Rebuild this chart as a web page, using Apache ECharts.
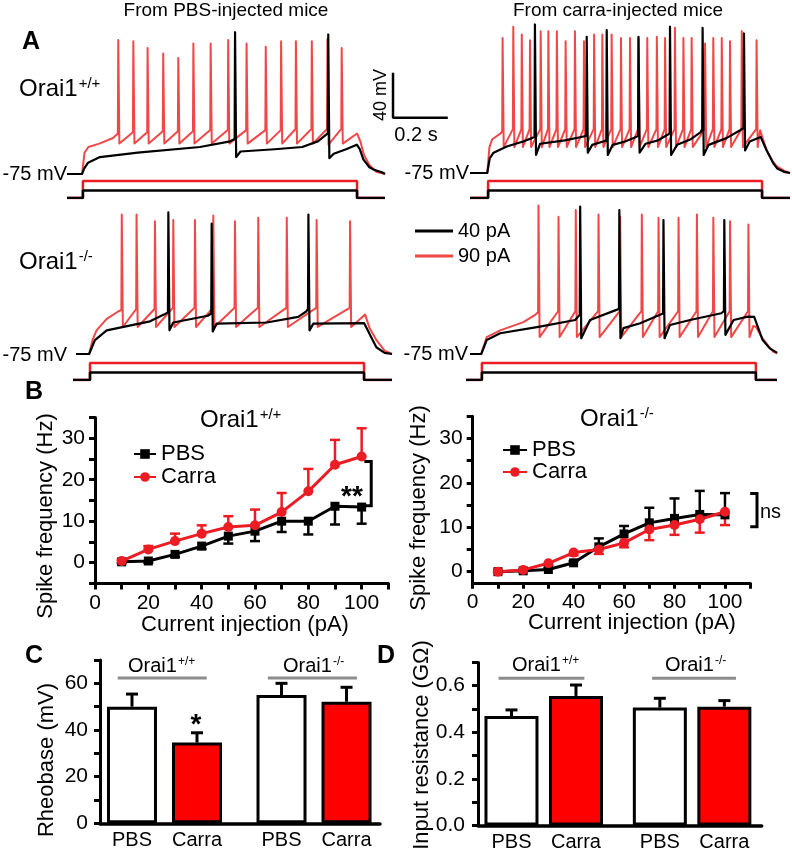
<!DOCTYPE html>
<html><head><meta charset="utf-8">
<script src="https://cdn.jsdelivr.net/npm/echarts@6/dist/echarts.min.js"></script>
<style>html,body{margin:0;padding:0;background:#fff}#c{width:792px;height:853px}</style>
</head><body><div id="c"></div>
<script>
// ================= DATA =================
// Panel A traces. Sub-threshold key points: [time ms from step onset, mV]
// Spikes: [time ms, peak mV, pre-spike mV, post-spike trough mV]
const tlBlackSub = [[-58,-75],[-3,-75],[5,-70],[19,-65],[62,-60],[200,-56],[427,-51],[537,-46],[575,-55],[700,-53],[800,-51],[857,-46],[883,-41],[915,-57],[960,-53],[999,-49],[1010,-53],[1023,-62],[1045,-69],[1060,-71],[1096,-74],[1102,-75]];
const tlBlackSpikes = [[555,51,-44,-60],[895,49,-39,-61]];
const tlRedSub = [[-58,-75],[-3,-75],[6,-56],[20,-51],[60,-48],[110,-43],[1000,-39],[1012,-46],[1025,-58],[1045,-67],[1070,-73],[1102,-75]];
const tlRedSpikes = [[129,44,-39,-48],[184,43,-38,-48],[236,37,-38,-48],[293,32,-37,-48],[348,28,-37,-48],[403,41,-37,-48],[466,41,-36,-48],[530,44,-36,-48],[597,41,-36,-48],[667,38,-36,-48],[723,43,-36,-48],[777,43,-35,-48],[835,43,-35,-48],[892,45,-35,-49],[944,37,-35,-48]];

const trBlackSub = [[-66,-75],[-3,-75],[6,-62],[20,-57],[68,-51.5],[128,-47],[160,-44],[190,-49],[280,-46],[340,-43],[380,-50],[420,-47],[455,-50],[500,-47],[540,-43],[575,-49],[620,-46],[655,-41],[690,-50],[740,-45],[775,-39],[805,-50],[870,-44],[920,-37],[955,-47],[995,-43],[1017,-55],[1040,-66],[1055,-71],[1080,-74],[1102,-75]];
const trBlackSpikes = [[171,57,-43,-59],[360,46,-42,-57],[433,52,-46,-59],[549,46,-42,-57],[664,55,-40,-59],[783,54,-36,-59],[934,49,-35,-55]];
const trRedSub = [[-66,-75],[-3,-75],[5,-52],[15,-45],[45,-40],[993,-37],[1017,-55],[1040,-65],[1053,-69],[1080,-73],[1102,-75]];
const trRedSpikes = [[53,45,-38,-52],[92,55,-36,-52],[123,48,-36,-52],[153,43,-36,-52],[192,51,-36,-52],[220,51,-36,-52],[251,51,-36,-52],[283,42,-36,-52],[317,51,-36,-52],[350,42,-36,-52],[387,48,-36,-52],[417,48,-36,-52],[451,48,-36,-52],[485,45,-36,-52],[518,45,-36,-52],[549,45,-36,-52],[581,45,-36,-52],[616,46,-36,-52],[646,45,-36,-52],[682,54,-36,-52],[713,45,-36,-52],[743,45,-36,-52],[792,40,-36,-52],[822,45,-36,-52],[853,45,-36,-52],[883,42,-36,-52],[926,51,-36,-52],[980,43,-36,-52]];

const blBlackSub = [[-51,-75],[-3,-75],[18,-62.6],[61,-54],[219,-46],[270,-40],[304,-47],[430,-41],[462,-48],[645,-47],[760,-42],[790,-37],[815,-48],[1000,-47.5],[1030,-62],[1045,-69],[1075,-74],[1102,-75]];
const blBlackSpikes = [[286,51,-38,-54],[444,41,-39,-55],[797,49,-35,-54]];
const blRedSub = [[-51,-75],[-3,-75],[10,-62],[24,-54],[60,-44],[104,-37],[1004,-40],[1020,-52],[1046,-63],[1075,-72],[1102,-75]];
const blRedSpikes = [[116,49,-36,-51],[170,49,-35,-51],[237,43,-35,-51],[304,44,-34,-51],[383,44,-34,-51],[450,48,-34,-51],[529,43,-34,-51],[614,46,-34,-51],[718,46,-34,-51],[827,44,-34,-51],[949,43,-34,-51]];

const brBlackSub = [[-44,-75],[-3,-75],[17,-62.6],[66,-56.6],[211,-50.7],[340,-44.8],[394,-44.8],[488,-36],[516,-52],[577,-47.7],[647,-40.3],[686,-49.2],[759,-44.8],[873,-38.8],[918,-44.8],[970,-41.8],[993,-42],[1024,-62.6],[1050,-70],[1077,-74]];
const brBlackSpikes = [[358,56,-40,-61],[501,53,-35,-61],[662,44,-39,-61],[884,44,-37,-58]];
const brRedSub = [[-44,-75],[-3,-75],[17,-60],[66,-54],[151,-46.7],[195,-40],[990,-50],[1000,-51],[1020,-60],[1045,-68],[1063,-73],[1077,-74.5]];
const brRedSpikes = [[206,57,-38,-60],[279,47,-37,-60],[342,53,-37,-60],[425,49,-37,-60],[504,47,-37,-60],[583,49,-37,-60],[644,46,-37,-60],[717,46,-37,-60],[784,49,-37,-60],[844,46,-37,-60],[905,43,-37,-60],[972,40,-37,-60]];

// Current steps (pA), step from 0 to 1000 ms
const stepOnMs = 0, stepOffMs = 1000;
const stimBlackPa = 40, stimRedPa = 90;
// Scale bar
const scaleMv = 40, scaleMs = 200;

// Panel B
const currents = [10,20,30,40,50,60,70,80,90,100];
const wtPbs      = [0.2,0.4,2.0,4.0,6.4,7.6,10.0,10.0,13.6,13.4];
const wtPbsErr   = [0.3,0.4,0.6,0.7,1.8,2.4,2.6,3.2,4.4,4.0];
const wtCarra    = [0.4,3.2,5.2,7.0,8.6,9.0,12.2,17.2,23.6,25.6];
const wtCarraErr = [0.3,0.8,1.8,2.0,2.6,3.8,4.6,5.4,6.0,6.8];
const koPbs      = [0,0.2,0.5,2.0,5.6,8.5,11.0,12.0,12.9,12.8];
const koPbsErr   = [0.2,0.2,0.3,0.4,1.9,1.8,3.4,4.5,5.3,4.9];
const koCarra    = [0,0.4,1.9,4.3,5.0,6.5,9.5,10.5,11.8,13.5];
const koCarraErr = [0.2,0.3,0.4,0.6,1.0,1.0,2.4,2.2,3.0,3.0];

// Panels C & D
const barCats = ['PBS','Carra','PBS','Carra'];
const barPos  = [1, 2, 3.3, 4.3];
const rheobase    = [50, 34.6, 55, 52.1];
const rheobaseErr = [5.4, 4.2, 5.0, 6.2];
const inputRes    = [0.47, 0.556, 0.506, 0.51];
const inputResErr = [0.026, 0.047, 0.04, 0.026];

// ================= STYLE / LAYOUT =================
const FF = "'Liberation Sans', Arial, Helvetica, sans-serif";
const RED_TRACE = '#f04848';
const RED = '#ec1c24';
const RED_BAR = '#ff0000';

const panels = [ // trace grid, stim grid, x extents
  {tr:{left:67, top:22.1, width:318, height:157.5, min:-58, max:1102}, st:{left:67, top:179, width:318, height:19, min:-58, max:1102}},
  {tr:{left:390, top:21.1, width:400, height:157.5, min:-358, max:1102}, st:{left:470, top:179, width:320, height:19, min:-66, max:1102}},
  {tr:{left:76, top:202.1, width:316, height:157.5, min:-51, max:1102}, st:{left:73, top:361, width:319, height:19, min:-62, max:1102}},
  {tr:{left:470, top:202.1, width:307.2, height:157.5, min:-44, max:1077}, st:{left:466, top:361, width:311, height:19, min:-58, max:1077}}
];
const traceData = [
  [tlBlackSub, tlBlackSpikes, tlRedSub, tlRedSpikes],
  [trBlackSub, trBlackSpikes, trRedSub, trRedSpikes],
  [blBlackSub, blBlackSpikes, blRedSub, blRedSpikes],
  [brBlackSub, brBlackSpikes, brRedSub, brRedSpikes]
];

function buildTrace(sub, spikes){
  const pts = sub.map(p => [p[0], p[1]]);
  spikes.forEach(s => { pts.push([s[0]-1.5, s[2]], [s[0], s[1]], [s[0]+4, s[3]]); });
  pts.sort((a,b) => a[0]-b[0]);
  return pts;
}
function buildStim(min, max, amp){
  return [[min,0],[stepOnMs,0],[stepOnMs,amp],[stepOffMs,amp],[stepOffMs,0],[max,0]];
}

const grids = [], xAxes = [], yAxes = [], series = [];
panels.forEach((p, k) => {
  const gi = grids.length;
  grids.push({left:p.tr.left, top:p.tr.top, width:p.tr.width, height:p.tr.height, outerBoundsMode:'none'});
  xAxes.push({type:'value', gridIndex:gi, min:p.tr.min, max:p.tr.max, show:false});
  yAxes.push({type:'value', gridIndex:gi, min:-80, max:60, show:false});
  grids.push({left:p.st.left, top:p.st.top, width:p.st.width, height:p.st.height, outerBoundsMode:'none'});
  xAxes.push({type:'value', gridIndex:gi+1, min:p.st.min, max:p.st.max, show:false});
  yAxes.push({type:'value', gridIndex:gi+1, min:0, max:100, show:false});
  const d = traceData[k];
  const lineBase = {type:'line', showSymbol:false, symbol:'none', silent:true, animation:false};
  series.push(Object.assign({}, lineBase, {name:'90 pA', xAxisIndex:gi, yAxisIndex:gi, data:buildTrace(d[2], d[3]), lineStyle:{color:RED_TRACE, width:2, join:'round'}, itemStyle:{color:RED_TRACE}}));
  series.push(Object.assign({}, lineBase, {name:'40 pA', xAxisIndex:gi, yAxisIndex:gi, data:buildTrace(d[0], d[1]), lineStyle:{color:'#000', width:2.2, join:'round'}, itemStyle:{color:'#000'}}));
  series.push(Object.assign({}, lineBase, {name:'stim90', xAxisIndex:gi+1, yAxisIndex:gi+1, data:buildStim(p.st.min, p.st.max, stimRedPa), lineStyle:{color:RED, width:2.5}}));
  series.push(Object.assign({}, lineBase, {name:'stim40', xAxisIndex:gi+1, yAxisIndex:gi+1, data:buildStim(p.st.min, p.st.max, stimBlackPa), lineStyle:{color:'#000', width:2.5}}));
});
// scale bar in top-right trace grid (index 2)
series.push({type:'line', name:'scale', xAxisIndex:2, yAxisIndex:2, showSymbol:false, symbol:'none', silent:true,
  data:[[-347, 14], [-347, 14-scaleMv], [-347+scaleMs, 14-scaleMv]], lineStyle:{color:'#000', width:2.5}});

// ---------- common axis styles ----------
const axLine = {show:true, onZero:false, lineStyle:{color:'#000', width:3}};
const axTick = {show:true, inside:false, length:6, lineStyle:{color:'#000', width:3}};
const lblBase = {fontSize:21, color:'#000', fontFamily:FF};

// B grids (8,9)
grids.push({left:95, top:417.5, width:293.3, height:165.9, outerBoundsMode:'none'});
grids.push({left:472.7, top:416.3, width:277.5, height:166.5, outerBoundsMode:'none'});
[8,9].forEach(gi => {
  xAxes.push({type:'value', gridIndex:gi, min:0, max:110, interval:10, axisLine:axLine, axisTick:axTick, splitLine:{show:false},
    axisLabel:Object.assign({}, lblBase, {margin:9, formatter: v => (v % 20 === 0 && v <= 100) ? String(v) : ''})});
});
yAxes.push({type:'value', gridIndex:8, min:-5, max:35, interval:5, axisLine:axLine, axisTick:axTick, splitLine:{show:false},
  axisLabel:Object.assign({}, lblBase, {margin:10, formatter: v => (v >= 0 && v <= 30 && v % 10 === 0) ? String(v) : ''})});
yAxes.push({type:'value', gridIndex:9, min:-2.5, max:35, axisLine:axLine, splitLine:{show:false},
  axisTick:Object.assign({}, axTick, {customValues:[0,5,10,15,20,25,30,35]}),
  axisLabel:Object.assign({}, lblBase, {margin:10, customValues:[0,10,20,30]})});

// C, D grids (10, 11)
grids.push({left:100, top:660, width:280, height:163.3, outerBoundsMode:'none'});
grids.push({left:478, top:662.4, width:283.7, height:163.1, outerBoundsMode:'none'});
const catFmt = v => { const i = barPos.findIndex(p => Math.abs(p - v) < 1e-6); return i >= 0 ? barCats[i] : ''; };
xAxes.push({type:'value', gridIndex:10, min:0.508, max:4.815, axisLine:{show:true, onZero:false, lineStyle:{color:'#000', width:3.5}}, axisTick:{show:false}, splitLine:{show:false},
  axisLabel:Object.assign({}, lblBase, {fontSize:20, margin:7, customValues:barPos, formatter:catFmt})});
xAxes.push({type:'value', gridIndex:11, min:0.481, max:4.879, axisLine:{show:true, onZero:false, lineStyle:{color:'#000', width:3.5}}, axisTick:{show:false}, splitLine:{show:false},
  axisLabel:Object.assign({}, lblBase, {fontSize:20, margin:7, customValues:barPos, formatter:catFmt})});
yAxes.push({type:'value', gridIndex:10, min:0, max:70, interval:10, axisLine:axLine, axisTick:axTick, splitLine:{show:false},
  axisLabel:Object.assign({}, lblBase, {margin:12, formatter: v => (v % 20 === 0 && v <= 60) ? String(v) : ''})});
yAxes.push({type:'value', gridIndex:11, min:0, max:0.7, interval:0.1, axisLine:axLine, axisTick:axTick, splitLine:{show:false},
  axisLabel:Object.assign({}, lblBase, {margin:13, formatter: v => { const k = Math.round(v*10); return (k % 2 === 0 && k <= 6) ? (k/10).toFixed(1) : ''; }})});

function errBars(ax, xs, ys, es, dir, color, lw, cap){
  return {type:'custom', coordinateSystem:'cartesian2d', xAxisIndex:ax, yAxisIndex:ax, silent:true,
    encode:{x:0, y:1}, data: xs.map((x,i) => [x, ys[i], es[i]]),
    renderItem: (params, api) => {
      const x = api.value(0), y = api.value(1), e = api.value(2);
      const a = api.coord([x, y]), b = api.coord([x, y + dir*e]);
      const st = {stroke:color, lineWidth:lw};
      return {type:'group', children:[
        {type:'line', shape:{x1:a[0], y1:a[1], x2:b[0], y2:b[1]}, style:st},
        {type:'line', shape:{x1:b[0]-cap, y1:b[1], x2:b[0]+cap, y2:b[1]}, style:st}
      ]};
    }};
}
function bracket(ax, pts){
  return {type:'custom', coordinateSystem:'cartesian2d', xAxisIndex:ax, yAxisIndex:ax, silent:true, clip:false,
    encode:{x:0, y:1}, data:[[pts[0][0], pts[0][1]]],
    renderItem: (params, api) => ({type:'polyline', shape:{points: pts.map(p => api.coord(p))},
      style:{stroke:'#000', lineWidth:3, fill:null}})};
}
function freqLine(ax, name, ys, color, symbol){
  return {type:'line', name, xAxisIndex:ax, yAxisIndex:ax, data: currents.map((c,i) => [c, ys[i]]),
    symbol, symbolSize: symbol === 'rect' ? 9 : 10, showSymbol:true, silent:true,
    lineStyle:{color, width:3}, itemStyle:{color, borderWidth:0}};
}
// B left (WT)
series.push(errBars(8, currents, wtPbs, wtPbsErr, -1, '#000', 2.5, 5));
series.push(freqLine(8, 'PBS', wtPbs, '#000', 'rect'));
series.push(errBars(8, currents, wtCarra, wtCarraErr, 1, RED, 2.5, 5));
series.push(freqLine(8, 'Carra', wtCarra, RED, 'circle'));
// B right (KO)
series.push(errBars(9, currents, koPbs, koPbsErr, 1, '#000', 2.5, 5));
series.push(freqLine(9, 'PBS', koPbs, '#000', 'rect'));
series.push(errBars(9, currents, koCarra, koCarraErr, -1, RED, 2.5, 5));
series.push(freqLine(9, 'Carra', koCarra, RED, 'circle'));
// significance brackets
series.push(bracket(8, [[101,24.4],[103.6,24.4],[103.6,13.7],[101,13.7]]));
series.push(bracket(9, [[110,17.6],[112.7,17.6],[112.7,10.1],[110,10.1]]));

// C & D bars
function bars(ax, vals, w){
  return {type:'bar', name:'bars'+ax, xAxisIndex:ax, yAxisIndex:ax, barWidth:w, silent:true,
    data: barPos.map((p,i) => ({value:[p, vals[i]], itemStyle:{color: i % 2 ? RED_BAR : '#fff'}})),
    itemStyle:{borderColor:'#000', borderWidth:3}};
}
series.push(bars(10, rheobase, 50));
series.push(errBars(10, barPos, rheobase, rheobaseErr, 1, '#000', 3, 6));
series.push(bars(11, inputRes, 54));
series.push(errBars(11, barPos, inputRes, inputResErr, 1, '#000', 3, 6));
// group lines
[[10, 62.3, [0.78, 2.15]], [10, 62.3, [3.09, 4.46]], [11, 0.632, [0.8, 2.13]], [11, 0.632, [3.18, 4.48]]].forEach((g, i) => {
  series.push({type:'line', name:'grp'+i, xAxisIndex:g[0], yAxisIndex:g[0], showSymbol:false, symbol:'none', silent:true,
    data:[[g[2][0], g[1]], [g[2][1], g[1]]], lineStyle:{color:'#8c8c8c', width:3}});
});

// ---------- text ----------
const ctx = document.createElement('canvas').getContext('2d');
function tw(t, size){ ctx.font = size + 'px ' + FF; return ctx.measureText(t).width; }
function T(x, y, text, size, o){
  o = o || {};
  return {type:'text', x, y, rotation:o.rot || 0, silent:true, z:100,
    style:{text, fontSize:size, fontFamily:FF, fontWeight:o.bold ? 'bold' : 'normal', fill:'#000',
      align:o.align || 'left', verticalAlign:'middle'}};
}
function sup(x, y, main, s, size){
  const w = tw(main, size);
  return [T(x, y, main, size), T(x + w + 1, y - size*0.22, s, Math.round(size*0.62))];
}
const R = Math.PI/2;
const graphics = [
  T(226, 11, 'From PBS-injected mice', 19, {align:'center'}),
  T(618, 11, 'From carra-injected mice', 19, {align:'center'}),
  T(22, 42, 'A', 25, {bold:true}),
  ...sup(19, 89, 'Orai1', '+/+', 24),
  ...sup(19, 262, 'Orai1', '-/-', 24),
  T(67, 174, '-75 mV', 20, {align:'right'}),
  T(469, 173, '-75 mV', 20, {align:'right'}),
  T(67, 355, '-75 mV', 20, {align:'right'}),
  T(468, 354, '-75 mV', 20, {align:'right'}),
  T(381, 95, '40 mV', 18, {align:'center', rot:R}),
  T(416, 135, '0.2 s', 20, {align:'center'}),
  T(25, 392, 'B', 25, {bold:true}),
  ...sup(200, 420, 'Orai1', '+/+', 24),
  ...sup(580, 419, 'Orai1', '-/-', 24),
  T(46, 516, 'Spike frequency (Hz)', 22, {align:'center', rot:R}),
  T(419, 508, 'Spike frequency (Hz)', 22, {align:'center', rot:R}),
  T(245, 625, 'Current injection (pA)', 22, {align:'center'}),
  T(632, 623, 'Current injection (pA)', 22, {align:'center'}),
  T(352, 497, '**', 28, {bold:true, align:'center'}),
  T(760, 512, 'ns', 20),
  T(25, 656, 'C', 25, {bold:true}),
  T(377, 656, 'D', 25, {bold:true}),
  ...sup(128, 666, 'Orai1', '+/+', 20),
  ...sup(283, 666, 'Orai1', '-/-', 20),
  ...sup(512, 665, 'Orai1', '+/+', 20),
  ...sup(665, 665, 'Orai1', '-/-', 20),
  T(196, 725, '*', 28, {bold:true, align:'center'}),
  T(47, 760, 'Rheobase (mV)', 22, {align:'center', rot:R}),
  T(422, 745, 'Input resistance (G\u03A9)', 22, {align:'center', rot:R})
];

const legendText = {fontSize:22, color:'#000', fontFamily:FF};
const option = {
  animation:false,
  backgroundColor:'#fff',
  textStyle:{fontFamily:FF},
  grid:grids, xAxis:xAxes, yAxis:yAxes, series,
  legend:[
    {data:['40 pA','90 pA'], orient:'vertical', left:410, top:216, icon:'rect', itemWidth:38, itemHeight:3, itemGap:5, selectedMode:false,
      textStyle:{fontSize:20, color:'#000', fontFamily:FF}},
    {data:['PBS','Carra'], orient:'vertical', left:128, top:438, itemWidth:22, itemHeight:12, itemGap:1, selectedMode:false, textStyle:legendText},
    {data:['PBS','Carra'], orient:'vertical', left:497, top:434, itemWidth:24, itemHeight:12, itemGap:0, selectedMode:false, textStyle:legendText}
  ],
  graphic:graphics
};
const chart = echarts.init(document.getElementById('c'), null, {renderer:'canvas', width:792, height:853});
chart.setOption(option);
</script></body></html>
